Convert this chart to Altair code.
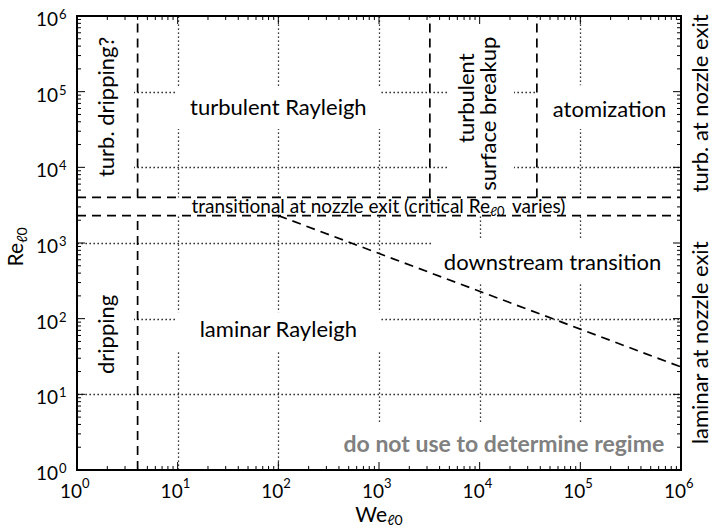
import math
import altair as alt
import pandas as pd

# ---------------- layout / style ----------------
W, H = 604, 454
FONT = "Lato"

# ---------------- axis structure ----------------
DECADES = [1, 10, 100, 1000, 10000, 100000, 1000000]
EXPONENTS = ["0", "1", "2", "3", "4", "5", "6"]
MINOR_MULTS = [2, 3, 4, 5, 6, 7, 8, 9]

# ---------------- regime boundaries ----------------
RE_TRANS_LO = 2300
RE_TRANS_HI = 4000
WE_DRIP = 4
WE_TSB = 3200
WE_ATOM = 37000
WE_DOWN_START = 100
WE_DOWN_END = 1e6
RE_DOWN_END = 23

seg_we1 = [WE_DRIP, WE_DRIP, 1, 1, WE_TSB, WE_ATOM, WE_DOWN_START]
seg_we2 = [WE_DRIP, WE_DRIP, 1e6, 1e6, WE_TSB, WE_ATOM, WE_DOWN_END]
seg_re1 = [1, RE_TRANS_HI, RE_TRANS_HI, RE_TRANS_LO, RE_TRANS_HI, RE_TRANS_HI, RE_TRANS_LO]
seg_re2 = [RE_TRANS_LO, 1e6, RE_TRANS_HI, RE_TRANS_LO, 1e6, 1e6, RE_DOWN_END]

# ---------------- regime labels (inside plot) ----------------
lab_text = ["turb. dripping?", "turbulent Rayleigh", "turbulent", "surface breakup",
            "atomization", "downstream transition", "dripping", "laminar Rayleigh"]
lab_we = [2, 100, 7400, 12500, 195000, 53000, 2, 100]
lab_re = [63000, 60000, 82000, 51000, 57000, 545, 62, 70]
lab_angle = [270, 0, 270, 270, 0, 0, 270, 0]

# regions hidden behind the label boxes (white backgrounds)
mask_we1 = [1, 9.5, 4960, 37100, 3360, 1, 9.5, 326, 1]
mask_we2 = [3.68, 1050, 21900, 1e6, 1e6, 3.68, 1050, 1e6, 1e6]
mask_re1 = [RE_TRANS_HI, 32100, RE_TRANS_HI, 32100, 305, 11.5, 38.5, 1, RE_TRANS_LO]
mask_re2 = [1e6, 119000, 1e6, 122000, 1100, 400, 122, 4.18, RE_TRANS_HI]

# transitional label pieces, anchored at We = 1000, mid band
TRANS_WE = 1000
TRANS_RE = math.sqrt(RE_TRANS_LO * RE_TRANS_HI)

# note
NOTE_TEXT = "do not use to determine regime"
NOTE_WE = 17400
NOTE_RE = 2.14

# right side labels
side_text = ["turb. at nozzle exit", "laminar at nozzle exit"]
side_re = [70000, 48]

# ---------------- scales / axes ----------------
xscale = alt.Scale(type="log", domain=[1, 1e6])
yscale = alt.Scale(type="log", domain=[1, 1e6])
grid_vals = DECADES[1:-1]
xaxis = alt.Axis(values=grid_vals, grid=True, gridDash=[1.3, 2.7], gridColor="black",
                 gridWidth=1.3, gridOpacity=1, labels=False, ticks=False, domain=False, title=None)
yaxis = alt.Axis(values=grid_vals, grid=True, gridDash=[1.3, 2.7], gridColor="black",
                 gridWidth=1.3, gridOpacity=1, labels=False, ticks=False, domain=False, title=None)


def X(f):
    return alt.X(f, type="quantitative", scale=xscale, axis=xaxis)


def Y(f):
    return alt.Y(f, type="quantitative", scale=yscale, axis=yaxis)


layers = []

# masks (white boxes behind labels) - carry the grid
mask_df = pd.DataFrame({"x1": mask_we1, "x2": mask_we2, "y1": mask_re1, "y2": mask_re2})
layers.append(
    alt.Chart(mask_df).mark_rect(color="white", strokeWidth=0).encode(
        x=X("x1"), x2="x2", y=Y("y1"), y2="y2")
)

# dashed regime boundaries
seg_df = pd.DataFrame({"x1": seg_we1, "x2": seg_we2, "y1": seg_re1, "y2": seg_re2})
layers.append(
    alt.Chart(seg_df).mark_rule(color="black", strokeWidth=1.7, strokeDash=[9, 6]).encode(
        x=X("x1"), x2="x2", y=Y("y1"), y2="y2")
)

# regime labels
lab_df = pd.DataFrame({"t": lab_text, "we": lab_we, "re": lab_re, "a": lab_angle})
for ang in (0, 270):
    sub = lab_df[lab_df["a"] == ang]
    layers.append(
        alt.Chart(sub).mark_text(font=FONT, fontSize=22, color="black", align="center",
                                 baseline="middle", angle=ang).encode(
            x=X("we"), y=Y("re"), text="t:N")
    )

# transitional label (with subscript)
tr_df = pd.DataFrame({"we": [TRANS_WE], "re": [TRANS_RE]})
layers.append(alt.Chart(tr_df).mark_text(font=FONT, fontSize=19, align="right", baseline="middle",
                                         dx=111, text="transitional at nozzle exit (critical Re").encode(
    x=X("we"), y=Y("re")))
layers.append(alt.Chart(tr_df).mark_text(font=FONT, fontSize=13, align="left", baseline="middle",
                                         dx=111, dy=5, text="ℓ0").encode(x=X("we"), y=Y("re")))
layers.append(alt.Chart(tr_df).mark_text(font=FONT, fontSize=19, align="left", baseline="middle",
                                         dx=133, text="varies)").encode(x=X("we"), y=Y("re")))

# note
note_df = pd.DataFrame({"we": [NOTE_WE], "re": [NOTE_RE], "t": [NOTE_TEXT]})
layers.append(alt.Chart(note_df).mark_text(font=FONT, fontSize=23, fontWeight="bold", color="#808080",
                                           align="center", baseline="middle").encode(
    x=X("we"), y=Y("re"), text="t:N"))

# ticks (inward, four sides)
major_vals = DECADES[1:-1]
minor_vals = [m * d for d in DECADES[:-1] for m in MINOR_MULTS]
for vals, ln in ((major_vals, 8), (minor_vals, 4)):
    tdf = pd.DataFrame({"v": vals})
    rule = alt.Chart(tdf).mark_rule(color="black", strokeWidth=1)
    layers.append(rule.encode(x=X("v"), y=alt.value(H), y2=alt.value(H - ln)))
    layers.append(rule.encode(x=X("v"), y=alt.value(0), y2=alt.value(ln)))
    layers.append(rule.encode(y=Y("v"), x=alt.value(0), x2=alt.value(ln)))
    layers.append(rule.encode(y=Y("v"), x=alt.value(W), x2=alt.value(W - ln)))

# frame
frame_df = pd.DataFrame({"k": [0]})
layers.append(alt.Chart(frame_df).mark_rect(fillOpacity=0, stroke="black", strokeWidth=2).encode(
    x=alt.value(0), x2=alt.value(W), y=alt.value(0), y2=alt.value(H)))

# tick labels
dec_df = pd.DataFrame({"v": DECADES, "e": EXPONENTS})
layers.append(alt.Chart(dec_df).mark_text(font=FONT, fontSize=19, align="right", baseline="alphabetic",
                                          dx=5, text="10").encode(x=X("v"), y=alt.value(H + 28)))
layers.append(alt.Chart(dec_df).mark_text(font=FONT, fontSize=13, align="left", baseline="alphabetic",
                                          dx=5).encode(x=X("v"), y=alt.value(H + 18), text="e:N"))
layers.append(alt.Chart(dec_df).mark_text(font=FONT, fontSize=19, align="right", baseline="alphabetic",
                                          dy=10, text="10").encode(y=Y("v"), x=alt.value(-19)))
layers.append(alt.Chart(dec_df).mark_text(font=FONT, fontSize=13, align="left", baseline="alphabetic",
                                          dy=3).encode(y=Y("v"), x=alt.value(-18), text="e:N"))

# axis titles
layers.append(alt.Chart(frame_df).mark_text(font=FONT, fontSize=21, align="right", baseline="alphabetic",
                                            text="We").encode(x=alt.value(310), y=alt.value(H + 52)))
layers.append(alt.Chart(frame_df).mark_text(font=FONT, fontSize=14, align="left", baseline="alphabetic",
                                            text="ℓ0").encode(x=alt.value(310), y=alt.value(H + 55)))
layers.append(alt.Chart(frame_df).mark_text(font=FONT, fontSize=21, align="right", baseline="alphabetic",
                                            angle=270, text="Re").encode(x=alt.value(-54), y=alt.value(227)))
layers.append(alt.Chart(frame_df).mark_text(font=FONT, fontSize=14, align="left", baseline="alphabetic",
                                            angle=270, text="ℓ0").encode(x=alt.value(-50), y=alt.value(227)))

# right side labels
side_df = pd.DataFrame({"t": side_text, "re": side_re})
layers.append(alt.Chart(side_df).mark_text(font=FONT, fontSize=22, align="center", baseline="middle",
                                           angle=270).encode(x=alt.value(W + 20), y=Y("re"), text="t:N"))

chart = alt.layer(*layers).properties(
    width=W, height=H,
    padding={"left": 77, "top": 16, "right": 31, "bottom": 59},
    autosize=alt.AutoSizeParams(type="none"),
    background="white",
).configure_view(stroke=None)

chart.save("out.html", embed_options={"renderer": "svg", "actions": False})
